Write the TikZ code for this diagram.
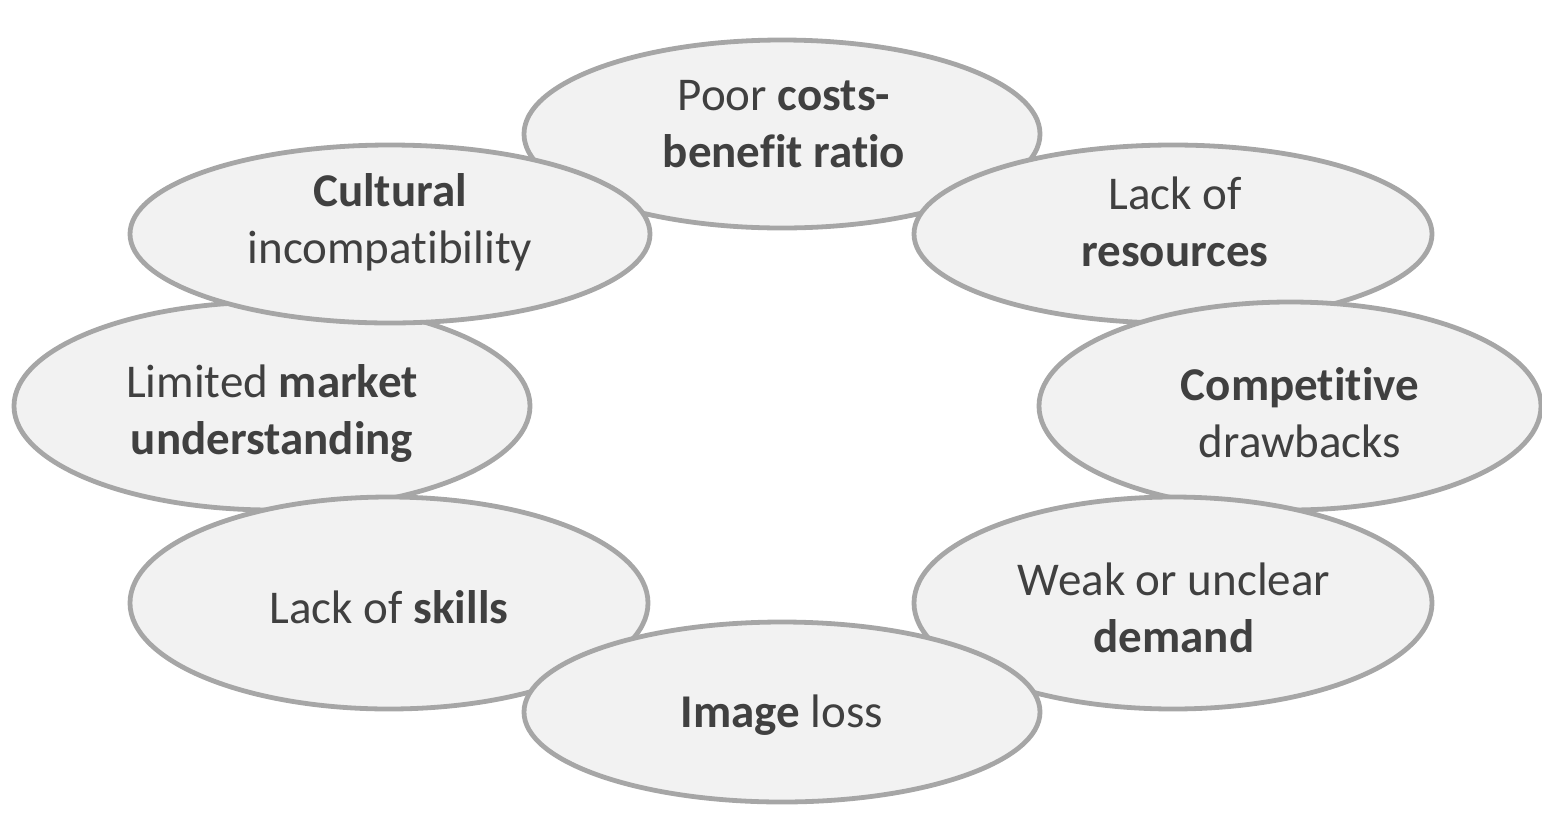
\documentclass[tikz,border=0pt]{standalone}
\usepackage{fontspec}
\setmainfont{Carlito}[Ligatures={CommonOff,ContextualOff}]
\usetikzlibrary{shapes.geometric}
\definecolor{bubblefill}{HTML}{F2F2F2}
\definecolor{bubbleline}{HTML}{A6A6A6}
\definecolor{bubbletext}{HTML}{404040}
\tikzset{
  bubble/.style={ellipse, draw=bubbleline, fill=bubblefill, line width=2.4pt, inner sep=0pt},
  label text/.style={align=center, text=bubbletext, inner sep=0pt,
    font=\fontsize{23.5}{28.5}\selectfont}
}
\begin{document}
\begin{tikzpicture}[x=0.5pt,y=-0.5pt]
\useasboundingbox (0,0) rectangle (1542,815);
% ellipses in stacking order
\node[bubble, minimum width=258pt, minimum height=94pt] (poor) at (782,134) {};
\node[bubble, minimum width=258pt, minimum height=104pt] (market) at (272,406) {};
\node[bubble, minimum width=260pt, minimum height=89pt] (cult) at (390,234) {};
\node[bubble, minimum width=259pt, minimum height=89pt] (res) at (1173,234) {};
\node[bubble, minimum width=251pt, minimum height=104pt] (comp) at (1290,406) {};
\node[bubble, minimum width=259pt, minimum height=106pt] (demand) at (1173,603) {};
\node[bubble, minimum width=259pt, minimum height=106pt] (skills) at (389,603) {};
\node[bubble, minimum width=258pt, minimum height=90pt] (image) at (782,712) {};
% texts
\node[label text] (tpoor) at (784,124) {Poor \textbf{costs-}\\\textbf{benefit ratio}};
\node[label text] (tcult) at (390,222) {\textbf{Cultural}\\incompatibility};
\node[label text] (tres) at (1175,222) {Lack of\\\textbf{resources}};
\node[label text] (tmarket) at (272,413) {Limited \textbf{market}\\\textbf{understanding}};
\node[label text] (tcomp) at (1300,413) {\textbf{Competitive}\\drawbacks};
\node[label text] (tskills) at (389,607) {Lack of \textbf{skills}};
\node[label text] (tdemand) at (1174,608) {Weak or unclear\\\textbf{demand}};
\node[label text] (timage) at (782,715) {\textbf{Image} loss};
\end{tikzpicture}
\end{document}
